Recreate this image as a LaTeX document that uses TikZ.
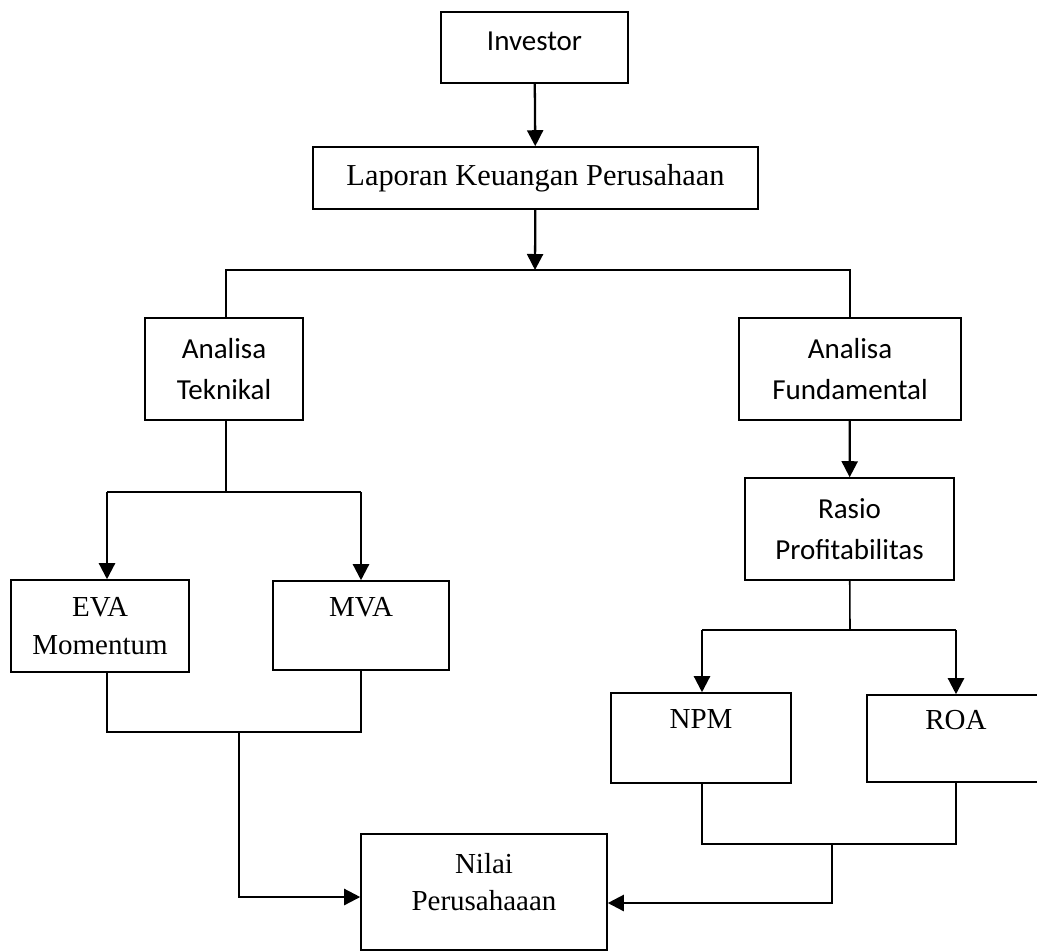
\documentclass[tikz,border=0pt]{standalone}
\usepackage{fontspec}
\setmainfont{Liberation Serif}
\newfontfamily\calibri{Carlito}
\usetikzlibrary{arrows.meta}

\begin{document}
\begin{tikzpicture}[
    x=0.02cm, y=-0.02cm,
    box/.style={draw, line width=0.9pt, align=center, inner sep=0pt, font=\fontsize{16.5}{21.5}\selectfont},
    sbox/.style={box, font=\calibri\fontsize{16.5}{23.5}\selectfont},
    line/.style={line width=0.9pt},
    arr/.style={-{Triangle[length=0.32cm, width=0.32cm]}, line width=1.3pt},
]
\clip (0,0) rectangle (1037,951);

% boxes
\node[sbox, minimum width=3.74cm, minimum height=1.42cm] (inv) at (534.5,47.5) {Investor\\[-16pt]\mbox{}};
\node[box, minimum width=8.9cm, minimum height=1.24cm, font=\fontsize{17.3}{21.5}\selectfont] (lap) at (535.5,178) {Laporan Keuangan Perusahaan};
\node[sbox, minimum width=3.16cm, minimum height=2.04cm] (tek) at (224,369) {Analisa\\Teknikal};
\node[sbox, minimum width=4.44cm, minimum height=2.04cm] (fund) at (850,369) {Analisa\\Fundamental};
\node[sbox, minimum width=4.18cm, minimum height=2.04cm] (ras) at (849.5,529) {Rasio\\Profitabilitas};
\node[box, minimum width=3.56cm, minimum height=1.84cm] (eva) at (100,626) {EVA\\Momentum};
\node[box, minimum width=3.52cm, minimum height=1.78cm] (mva) at (361,625.5) {MVA\\\mbox{}};
\node[box, minimum width=3.6cm, minimum height=1.8cm] (npm) at (701,738) {NPM\\\mbox{}};
\node[box, minimum width=3.56cm, minimum height=1.74cm] (roa) at (956,738.5) {ROA\\\mbox{}};
\node[box, minimum width=4.92cm, minimum height=2.32cm] (nil) at (484,892) {Nilai\\Perusahaaan\\[-10pt]\mbox{}};

% junction points
\coordinate (top) at (535,270);
\coordinate (tl) at (226,270);
\coordinate (tr) at (850,270);
\coordinate (tk) at (226,492);
\coordinate (tka) at (107,492);
\coordinate (tkb) at (361,492);
\coordinate (rs) at (850,630);
\coordinate (rsa) at (702,630);
\coordinate (rsb) at (956,630);
\coordinate (lb) at (107,732);
\coordinate (lm) at (239,732);
\coordinate (rb) at (702,844);
\coordinate (rm) at (832,844);

\draw[arr] (inv) -- (lap);
\draw[arr] (lap) -- (top);
\draw[line] (tek.north -| tl) -- (tl) -- (tr) -- (fund.north);
\draw[line] (tek.south -| tk) -- (tk);
\draw[line] (tka) -- (tkb);
\draw[arr] (fund) -- (ras);
\draw[line] (ras) -- (rs);
\draw[line] (rsa) -- (rsb);

\foreach \p/\b in {tka/eva, tkb/mva, rsa/npm, rsb/roa} {
    \draw[arr] (\p) -- (\p |- \b.north);
}

% bottom joins
\draw[line] (eva.south -| lb) -- (lb) -- (lb -| mva.south) -- (mva.south);
\draw[arr] (lm) |- (nil.west |- 0,897);
\draw[line] (npm.south -| rb) -- (rb) -- (rb -| roa.south) -- (roa.south);
\draw[arr] (rm) |- (nil.east |- 0,903);

\end{tikzpicture}
\end{document}
